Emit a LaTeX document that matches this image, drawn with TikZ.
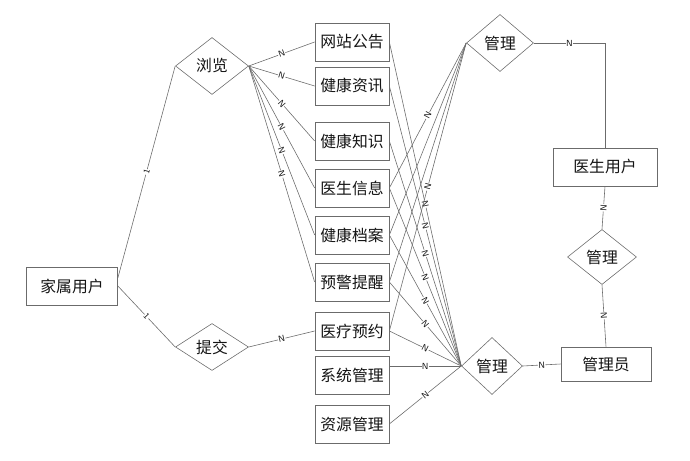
\documentclass[tikz,border=0pt]{standalone}
\usepackage{fontspec}
\newfontfamily\cjk{Noto Sans CJK SC}
\usetikzlibrary{shapes.geometric}

\colorlet{erLine}{black!58}
\colorlet{erText}{black!92}

\tikzset{
  ent/.style={draw=erLine, line width=0.6pt, text=erText,
              minimum width=2.22cm, minimum height=1.14cm, inner sep=0pt},
  rel/.style={draw=erLine, diamond, line width=0.5pt, text=erText, inner sep=0pt},
  link/.style={draw=erLine, line width=0.5pt},
  card/.style={font=\sffamily\fontsize{7.5}{8}\selectfont, text=erText,
               fill=white, inner sep=0.4pt, sloped}
}

\begin{document}
\begin{tikzpicture}[x=0.03cm, y=-0.03cm, font=\cjk\fontsize{13.5}{15}\selectfont]
        \useasboundingbox (0,0) rectangle (690,461);
        % entities and relations
        \node[ent, minimum width=2.73cm] (jia) at (72,286) {家属用户};
        \node[rel, minimum width=2.19cm, minimum height=1.71cm] (ll) at (212,66) {浏览};
        \node[rel, minimum width=2.19cm, minimum height=1.41cm] (tj) at (212,347) {提交};
        \foreach \nm/\y/\txt in {wz/42/网站公告, zx/86/健康资讯, zs/141/健康知识,
                                 xx/188/医生信息, da/235/健康档案, yj/282/预警提醒,
                                 yy/331/医疗预约, xt/375/系统管理, zy/424/资源管理}
          \node[ent] (\nm) at (352,\y) {\txt};
        \node[rel, minimum width=2.01cm, minimum height=1.71cm] (gla) at (500,43) {管理};
        \node[rel, minimum width=1.83cm, minimum height=1.71cm] (glb) at (492,366) {管理};
        \node[rel, minimum width=2.07cm, minimum height=1.65cm] (glc) at (602,257) {管理};
        \node[ent, minimum width=3.12cm] (ys) at (605,167) {医生用户};
        \node[ent, minimum width=2.7cm, minimum height=1.02cm] (gly) at (606,364) {管理员};
        % family user side
        \draw[link] (jia.10) -- node[card]{1} (ll.west);
        \draw[link] (jia.east) -- node[card]{1} (tj.west);
        \foreach \nm in {wz,zx,zs,xx,da,yj}
          \draw[link] (ll.east) -- node[card]{N} (\nm.west);
        \draw[link] (tj.east) -- node[card]{N} (yy.west);
        % admin side
        \foreach \nm in {wz,zx,zs,xx,da,yj,yy,zy}
          \draw[link] (\nm.east) -- node[card]{N} (glb.west);
        \draw[link] (glb.west) -- node[card]{N} (glb.west -| xt.east);
        % doctor side
        \draw[link] (xx.east) -- node[card]{N} (gla.west);
        \draw[link] (da.east) -- (gla.west);
        \draw[link] (yj.east) -- (gla.west);
        \draw[link] (yy.east) -- node[card]{N} (gla.west);
        \draw[link] (gla.east) -| node[card, pos=0.25]{N} (ys.north);
        \draw[link] (ys.south) -- node[card]{N} (glc.north);
        \draw[link] (glc.south) -- node[card]{N} (gly.north);
        \draw[link] (glb.east) -- node[card]{N} (gly.west);
      \end{tikzpicture}
\end{document}
